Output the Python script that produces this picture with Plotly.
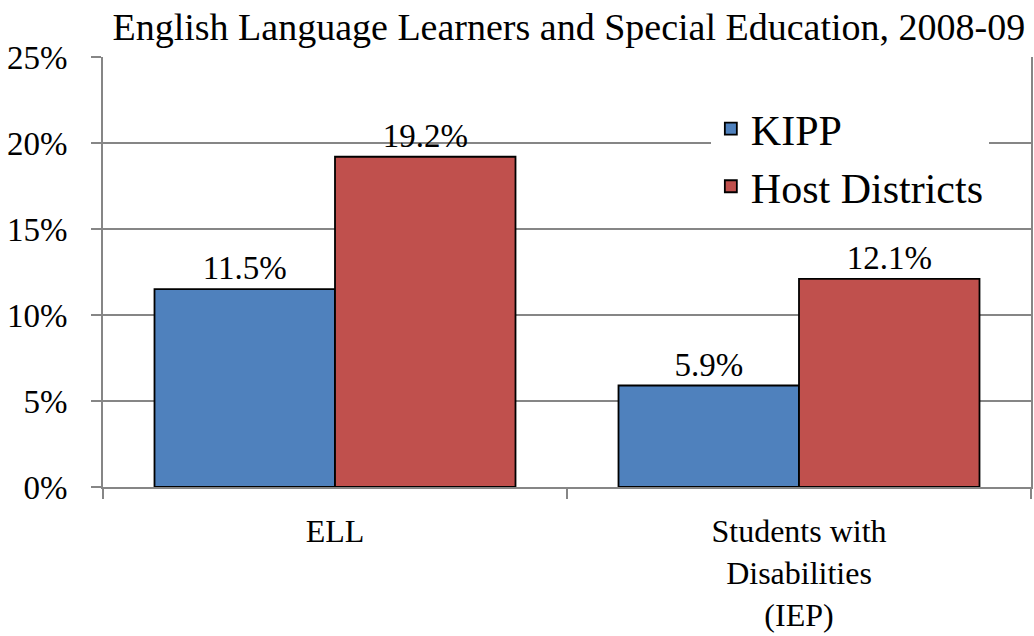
import plotly.graph_objects as go

categories = ["ELL", "Students with<br>Disabilities<br>(IEP)"]
kipp = [11.5, 5.9]
host = [19.2, 12.1]
kipp_labels = ["11.5%", "5.9%"]
host_labels = ["19.2%", "12.1%"]
y_ticks = [0, 5, 10, 15, 20, 25]
y_tick_labels = ["0%", "5%", "10%", "15%", "20%", "25%"]

FONT = "Liberation Serif"
GRID = "#868686"

fig = go.Figure()
fig.add_trace(go.Bar(
    name="KIPP", x=categories, y=kipp, text=kipp_labels,
    textposition="outside", cliponaxis=False,
    marker=dict(color="#4F81BD", line=dict(color="black", width=1.8)),
    textfont=dict(family=FONT, size=33, color="black"),
))
fig.add_trace(go.Bar(
    name="Host Districts", x=categories, y=host, text=host_labels,
    textposition="outside", cliponaxis=False,
    marker=dict(color="#C0504D", line=dict(color="black", width=1.8)),
    textfont=dict(family=FONT, size=33, color="black"),
))

fig.update_layout(
    width=1034, height=636,
    margin=dict(l=103, r=3, t=57, b=149, autoexpand=False),
    paper_bgcolor="white", plot_bgcolor="white",
    barmode="group", bargap=0.222, bargroupgap=0,
    font=dict(family=FONT, color="black", size=33),
    title=dict(text="English Language Learners and Special Education, 2008-09",
               x=0.502, xref="paper", xanchor="center",
               y=1 - 27 / 636, yref="container", yanchor="middle",
               font=dict(family=FONT, size=38, color="black")),
    legend=dict(x=0.655, y=0.912, xanchor="left", yanchor="top",
                bgcolor="white", font=dict(family=FONT, size=42, color="black"),
                tracegroupgap=0),
    showlegend=True,
)
fig.update_xaxes(
    automargin=False,
    showline=True, linecolor=GRID, linewidth=2,
    ticks="outside", tickson="boundaries", ticklen=10, tickcolor=GRID, tickwidth=2,
    tickfont=dict(family=FONT, size=32, color="black"),
    ticklabelstandoff=15,
    showgrid=False,
)
fig.update_yaxes(
    automargin=False,
    range=[0, 25], tickvals=y_ticks, ticktext=y_tick_labels,
    showline=True, linecolor=GRID, linewidth=2, mirror=True,
    ticks="outside", ticklen=10, tickcolor=GRID, tickwidth=2,
    ticklabelstandoff=17,
    showgrid=True, gridcolor=GRID, gridwidth=2,
    tickfont=dict(family=FONT, size=33, color="black"),
    zeroline=False,
)

fig.write_html("out.html",
               config={"displayModeBar": False},
               post_script="document.body.style.margin='0';document.body.style.overflow='hidden';")
